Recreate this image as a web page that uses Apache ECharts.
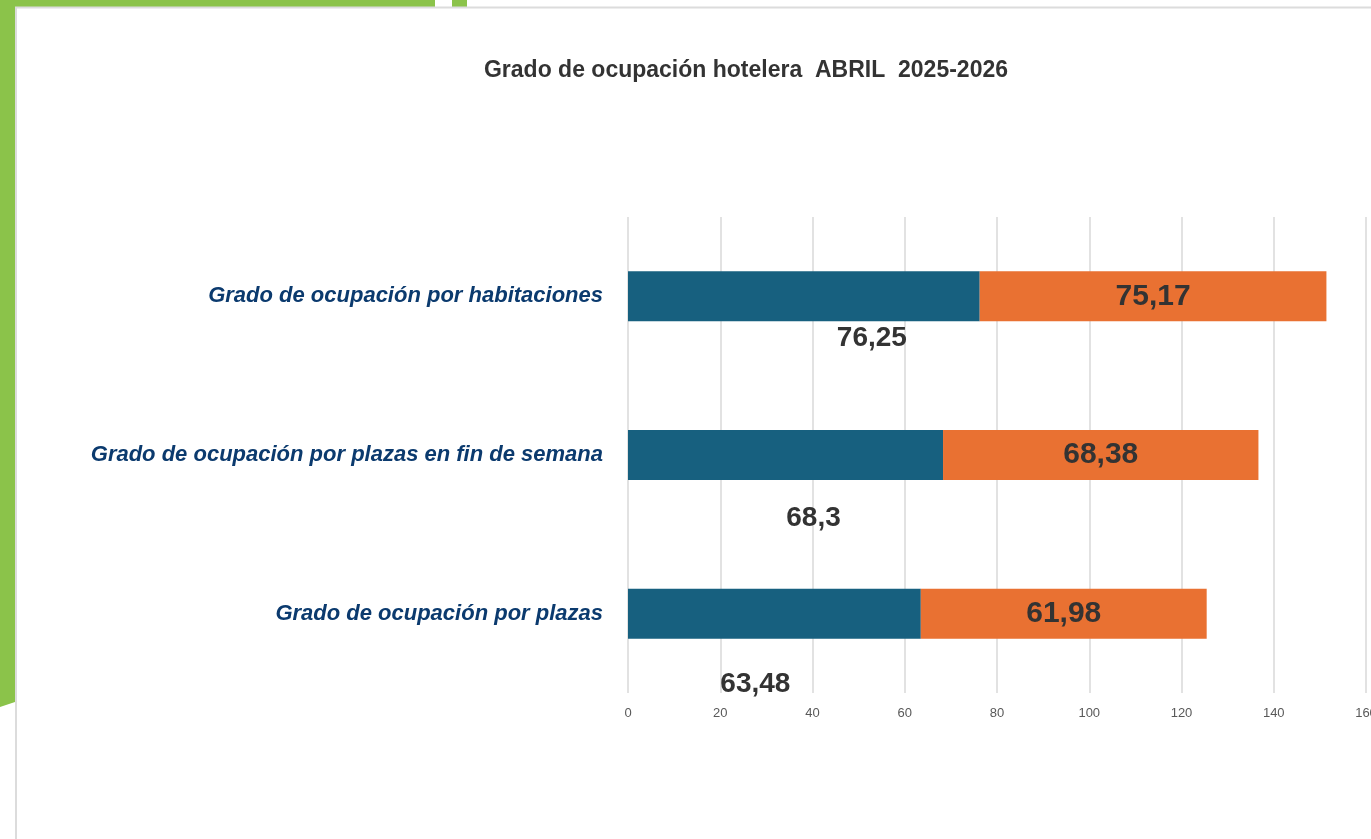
<!DOCTYPE html>
<html>
<head>
<meta charset="UTF-8">
<title>Grado de ocupación hotelera</title>
<script src="https://cdn.jsdelivr.net/npm/echarts@6/dist/echarts.min.js"></script>
<style>
html, body { margin: 0; padding: 0; background: #fff; overflow: hidden; }
#chart { width: 1371px; height: 839px; }
</style>
</head>
<body>
<div id="chart"></div>
<script type="text/javascript">
// datos del grafico
var categorias = ['Grado de ocupación por habitaciones', 'Grado de ocupación por plazas en fin de semana', 'Grado de ocupación por plazas'];
var abril2025 = [76.25, 68.3, 63.48];
var abril2026 = [75.17, 68.38, 61.98];
var ticksX = [0, 20, 40, 60, 80, 100, 120, 140, 160];

// desplazamiento de las etiquetas azules (movidas a mano en el original)
var offsetsAzul = [[68, -2], [28, 19], [-19, 27]];

var myChart = echarts.init(document.getElementById('chart'));

function fmt(v) {
	return String(v).replace('.', ',');
}

var datos2025 = [];
for (var i = 0; i < abril2025.length; i++) {
	datos2025.push({
		value: abril2025[i],
		label: { offset: offsetsAzul[i] }
	});
}

var verde = '#8BC34A';

var option = {
	animation: false,
	backgroundColor: '#ffffff',
	title: {
		text: 'Grado de ocupación hotelera  ABRIL  2025-2026',
		left: 741,
		top: 54,
		textAlign: 'center',
		textStyle: {
			fontFamily: 'Liberation Sans, Arial, sans-serif',
			fontSize: 23,
			fontWeight: 'bold',
			color: '#333333'
		}
	},
	grid: {
		left: 628,
		right: 5,
		top: 217,
		bottom: 146,
		outerBoundsMode: 'none'
	},
	xAxis: {
		type: 'value',
		min: ticksX[0],
		max: ticksX[ticksX.length - 1],
		interval: 20,
		axisLine: { show: false },
		axisTick: { show: false },
		axisLabel: {
			margin: 14,
			fontSize: 13,
			color: '#595959',
			fontFamily: 'Liberation Sans, Arial, sans-serif'
		},
		splitLine: {
			show: true,
			lineStyle: { color: '#d9d9d9', width: 1.5 }
		}
	},
	yAxis: {
		type: 'category',
		inverse: true,
		data: categorias,
		axisLine: { show: false },
		axisTick: { show: false },
		axisLabel: {
			margin: 25,
			fontSize: 22,
			fontWeight: 'bold',
			fontStyle: 'italic',
			color: '#0B3A6E',
			fontFamily: 'Liberation Sans, Arial, sans-serif'
		}
	},
	series: [{
		name: 'Abril 2025',
		type: 'bar',
		stack: 'total',
		barWidth: 50,
		itemStyle: { color: '#17607F' },
		label: {
			show: true,
			position: 'bottom',
			fontSize: 28,
			fontWeight: 'bold',
			color: '#333333',
			fontFamily: 'Liberation Sans, Arial, sans-serif',
			formatter: function (p) { return fmt(p.value); }
		},
		data: datos2025
	}, {
		name: 'Abril 2026',
		type: 'bar',
		stack: 'total',
		barWidth: 50,
		itemStyle: { color: '#E97132' },
		label: {
			show: true,
			position: 'inside',
			fontSize: 30,
			fontWeight: 'bold',
			color: '#333333',
			fontFamily: 'Liberation Sans, Arial, sans-serif',
			formatter: function (p) { return fmt(p.value); }
		},
		data: abril2026
	}],
	// adornos verdes del marco
	graphic: [
		{ type: 'rect', shape: { x: 0, y: 0, width: 435, height: 7 }, style: { fill: verde }, silent: true },
		{ type: 'rect', shape: { x: 452, y: 0, width: 15, height: 7 }, style: { fill: verde }, silent: true },
		{ type: 'polygon', shape: { points: [[0, 0], [15, 0], [15, 702], [0, 707]] }, style: { fill: verde }, silent: true },
		{ type: 'line', shape: { x1: 15, y1: 7.5, x2: 1371, y2: 7.5 }, style: { stroke: '#dcdcdc', lineWidth: 2 }, silent: true },
		{ type: 'line', shape: { x1: 16, y1: 7, x2: 16, y2: 839 }, style: { stroke: '#dcdcdc', lineWidth: 2 }, silent: true }
	]
};
myChart.setOption(option);
</script>
</body>
</html>
